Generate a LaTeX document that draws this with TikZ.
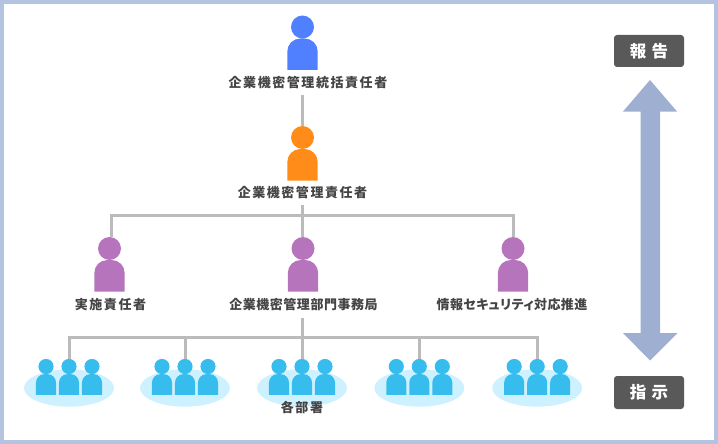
\documentclass[tikz,border=0pt]{standalone}
\usepackage{fontspec}
\setmainfont{Noto Sans CJK JP}
\newfontfamily\jplabel[LetterSpace=12]{Noto Sans CJK JP}
\newfontfamily\jptight[LetterSpace=4]{Noto Sans CJK JP}
\newfontfamily\jpkana[LetterSpace=3,RawFeature=+palt]{Noto Sans CJK JP}
\newfontfamily\jptag[LetterSpace=33]{Noto Sans CJK JP}
\usetikzlibrary{calc}

\definecolor{framecol}{HTML}{B4C3E0}
\definecolor{arrowcol}{HTML}{9FAFD2}
\definecolor{tagcol}{HTML}{595959}
\definecolor{linecol}{HTML}{BBBBBB}
\definecolor{textcol}{HTML}{444444}
\definecolor{topcol}{HTML}{5080FF}
\definecolor{mgrcol}{HTML}{FF8C19}
\definecolor{staffcol}{HTML}{B574BC}
\definecolor{deptcol}{HTML}{36BDEE}
\definecolor{padcol}{HTML}{CDF1FF}

\tikzset{
    conn/.style={draw=linecol,line width=3pt},
    namebox/.style={font=\jplabel\bfseries\fontsize{13}{13}\selectfont,text=textcol,
        inner sep=0pt,minimum height=24pt},
    tagbox/.style={fill=tagcol,rounded corners=3pt,text=white,inner sep=0pt,
        minimum width=70pt,font=\jptag\bfseries\fontsize{16.5}{16.5}\selectfont},
    pics/person/.style n args={2}{code={
        \node[circle,fill=#1,inner sep=0pt,minimum size=#2*23pt] (-head) at (0,0) {};
        \fill[#1,scale=#2] (-15.2,43) -- (-15.2,24.5)
            arc[start angle=180,end angle=270,radius=13] -- (2.2,11.5)
            arc[start angle=270,end angle=360,radius=13] -- (15.2,43) -- cycle;
    }}
}

\begin{document}
\begin{tikzpicture}[x=1pt,y=-1pt]

\useasboundingbox (0,0) rectangle (718,444);

% Frame
\draw[framecol,line width=4pt] (2,2) rectangle (716,442);

% -----------------------
% Upper rows
% -----------------------
\pic (top) at (302.5,27) {person={topcol}{1}};
\node[namebox] (topname) at (308,83) {企業機密管理統括責任者};

\pic (mgr) at (302.5,137.5) {person={mgrcol}{1}};
\node[namebox] (mgrname) at (302.5,192.5) {企業機密管理責任者};

\pic (impl) at (109.5,248.5) {person={staffcol}{1}};
\pic (office) at (303,248.5) {person={staffcol}{1}};
\pic (info) at (513,248.5) {person={staffcol}{1}};
\node[namebox] (implname) at (110.5,305) {実施責任者};
\node[namebox,font=\jptight\bfseries\fontsize{13}{13}\selectfont,minimum height=26pt] (officename) at (303.5,305) {企業機密管理部門事務局};
\node[namebox,font=\jpkana\bfseries\fontsize{13}{13}\selectfont] (infoname) at (512,305) {情報セキュリティ対応推進};

\coordinate (busA) at (302.5,215);
\coordinate (busB) at (302.5,337.5);
\coordinate (implbus) at (111.5,237);

\draw[conn] (top-head |- topname.south) -- (mgr-head.north);
\draw[conn] (implbus) |- (busA) -| (info-head.north);
\draw[conn] (mgr-head |- mgrname.south) -- (busA |- office-head.north);

% -----------------------
% Departments
% -----------------------
\foreach \i/\dx in {1/69,2/185,3/302,4/419.3,5/537.2}{
    \fill[padcol] (\dx,388) ellipse [x radius=45,y radius=18.7];
    \pic (dept\i a) at (\dx-23,366.5) {person={deptcol}{0.66}};
    \pic (dept\i) at (\dx,366.5) {person={deptcol}{0.66}};
    \pic (dept\i c) at (\dx+23,366.5) {person={deptcol}{0.66}};
}
\node[namebox,minimum height=14pt] (deptname) at (302,407.5) {各部署};

\draw[conn] (busA |- officename.south) -- (busB);
\draw[conn] (dept1-head.north) |- (busB) -| (dept5-head.north);
\foreach \i in {2,3,4}{
    \draw[conn] (dept\i-head |- busB) -- (dept\i-head.north);
}

% -----------------------
% Report / instruct
% -----------------------
\node[tagbox,minimum height=32pt] (report) at (649,51) {報告};
\node[tagbox,minimum height=33pt] (order) at (649,392.5) {指示};

\fill[arrowcol] (650,80) -- (677,111.5) -- (660,111.5) -- (660,333) -- (677.5,333)
    -- (650,360.5) -- (623,333) -- (640.5,333) -- (640.5,111.5) -- (623,111.5) -- cycle;

\end{tikzpicture}
\end{document}
